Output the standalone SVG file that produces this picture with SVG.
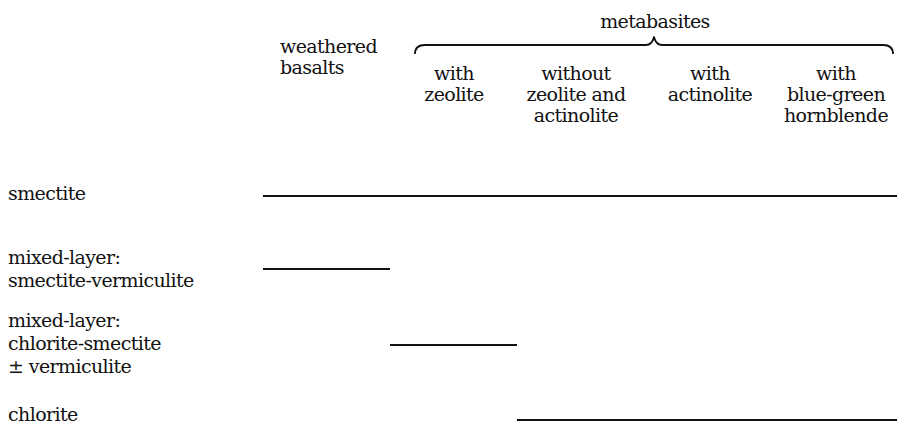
<svg xmlns="http://www.w3.org/2000/svg" width="897" height="425" viewBox="0 0 897 425">
  <style>
    text { font-family: "DejaVu Serif", serif; font-size: 19px; letter-spacing: -0.6px; fill: #111; }
    .mid { text-anchor: middle; }
    .bar { stroke: #111; stroke-width: 2.2; fill: none; }
    .brace { stroke: #111; stroke-width: 1.8; fill: none; stroke-linejoin: round; }
  </style>
  <rect width="897" height="425" fill="#fff"/>

  <!-- column headings -->
  <g id="col-weathered">
    <text x="280" y="53">weathered</text>
    <text x="280" y="74">basalts</text>
  </g>
  <g id="col-metabasites">
    <text class="mid" x="655" y="28">metabasites</text>
    <path class="brace" d="M415,54 Q415,45 425,45 L646,45 Q652,45 654,37 Q656,45 662,45 L883,45 Q893,45 893,54"/>
  </g>
  <g id="col-zeolite">
    <text class="mid" x="454" y="80">with</text>
    <text class="mid" x="454" y="101">zeolite</text>
  </g>
  <g id="col-without">
    <text class="mid" x="576" y="80">without</text>
    <text class="mid" x="576" y="101">zeolite and</text>
    <text class="mid" x="576" y="122">actinolite</text>
  </g>
  <g id="col-actinolite">
    <text class="mid" x="710" y="80">with</text>
    <text class="mid" x="710" y="101">actinolite</text>
  </g>
  <g id="col-hornblende">
    <text class="mid" x="836" y="80">with</text>
    <text class="mid" x="836" y="101">blue-green</text>
    <text class="mid" x="836" y="122">hornblende</text>
  </g>

  <!-- row labels -->
  <g id="row-smectite">
    <text x="8" y="200">smectite</text>
  </g>
  <g id="row-smectite-vermiculite">
    <text x="8" y="264">mixed-layer:</text>
    <text x="8" y="287">smectite-vermiculite</text>
  </g>
  <g id="row-chlorite-smectite">
    <text x="8" y="327">mixed-layer:</text>
    <text x="8" y="350">chlorite-smectite</text>
    <text x="8" y="373">± vermiculite</text>
  </g>
  <g id="row-chlorite">
    <text x="8" y="421">chlorite</text>
  </g>

  <!-- occurrence ranges -->
  <g id="ranges">
    <line class="bar" x1="263" y1="196" x2="897" y2="196"/>
    <line class="bar" x1="263" y1="269" x2="390" y2="269"/>
    <line class="bar" x1="390" y1="345" x2="517" y2="345"/>
    <line class="bar" x1="517" y1="420" x2="897" y2="420"/>
  </g>
</svg>
